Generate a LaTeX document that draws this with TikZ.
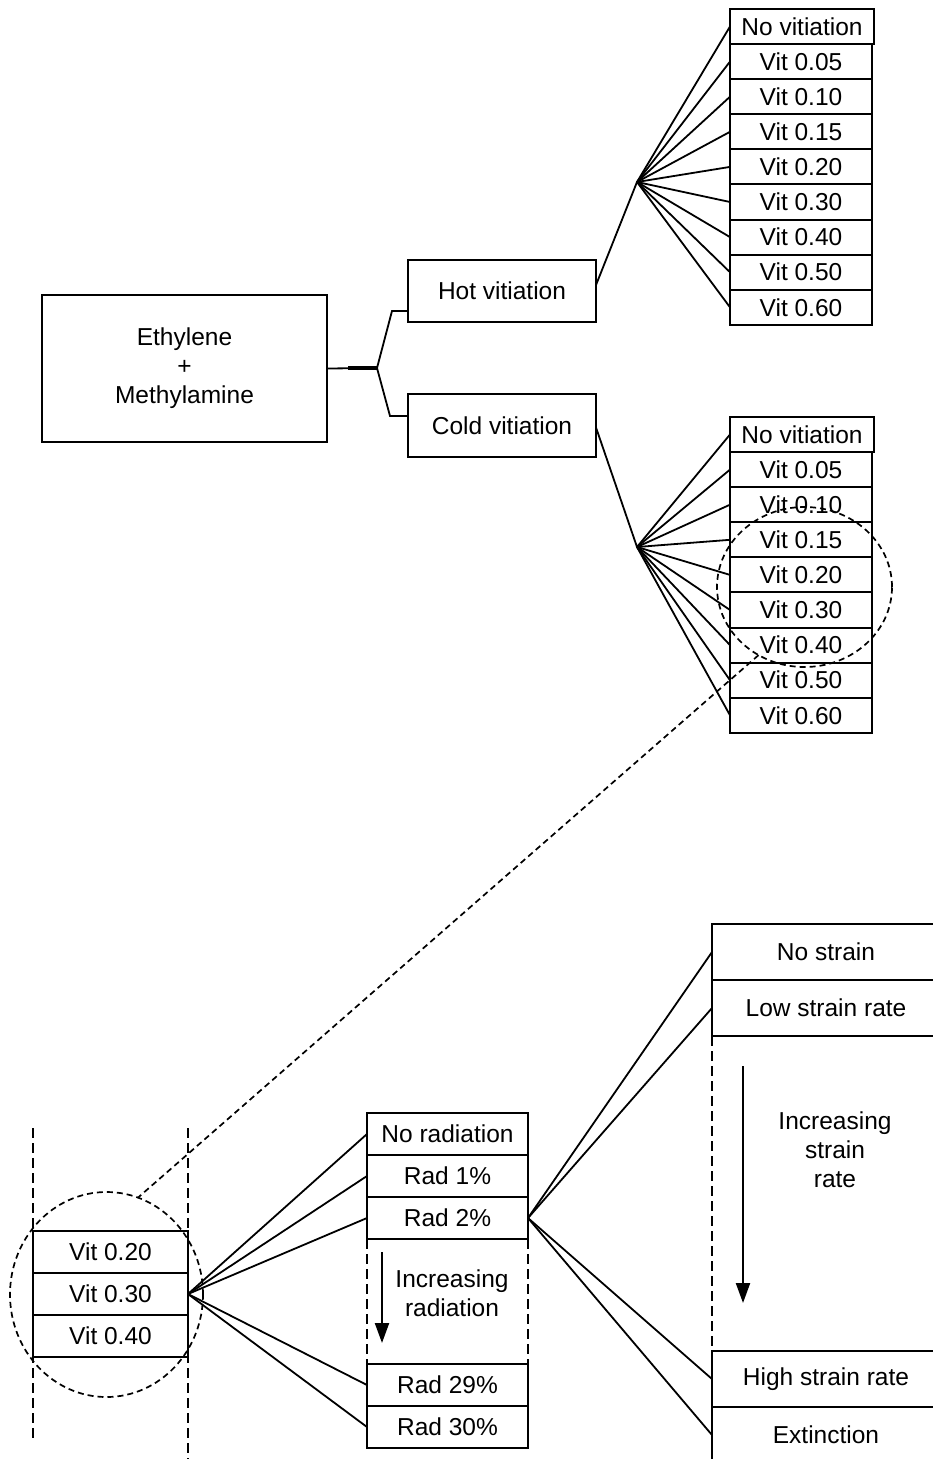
\documentclass[tikz,border=0pt]{standalone}
\usepackage{fontspec}
\setmainfont{Liberation Sans}
\usetikzlibrary{shapes.geometric,arrows.meta,calc}
\begin{document}
\begin{tikzpicture}[x=1pt,y=-1pt,
  box/.style={draw, line width=2pt, inner sep=0pt, outer sep=0pt, align=center,
    font=\fontsize{24.5}{29}\selectfont},
  vitbox/.style={box, minimum width=142pt, minimum height=35.1pt},
  radbox/.style={box, minimum width=161pt, minimum height=42pt},
  strainbox/.style={box, minimum width=228pt, minimum height=56pt},
  conn/.style={line width=1.8pt},
  guide/.style={line width=1.4pt, dash pattern=on 10pt off 5pt},
  zoomring/.style={draw, ellipse, line width=1.7pt, dash pattern=on 6pt off 4pt, inner sep=0pt, outer sep=0pt},
  zoomlink/.style={line width=1.7pt, dash pattern=on 6pt off 4pt},
  trend/.style={line width=2.2pt, -{Triangle[length=20pt,width=14pt]}},
  note/.style={align=center, font=\fontsize{24.5}{29}\selectfont, inner sep=0pt}
]
\useasboundingbox (0,0) rectangle (932,1459);

% main and first split
\node[box, minimum width=285pt, minimum height=147pt] (main) at (184.5,368.5) {Ethylene\\+\\Methylamine};
\node[box, minimum width=188pt, minimum height=62pt] (hot) at (502,291) {Hot vitiation};
\node[box, minimum width=188pt, minimum height=63pt] (cold) at (502,425.5) {Cold vitiation};
\coordinate (br) at (377,368);
\coordinate (brthick) at (348,368);
\coordinate (hbend) at (392,311);
\coordinate (hin) at (408,311);
\coordinate (cbend) at (390,416);
\coordinate (cin) at (408,416);
\draw[conn] (main.east) -- (br);
\draw[line width=3.2pt] (brthick) -- (br);
\draw[conn] (br) -- (hbend) -- (hin);
\draw[conn] (br) -- (cbend) -- (cin);

% hot vitiation column
\coordinate (hh) at (637,182);
\coordinate (ch) at (637,547);
\node[vitbox, minimum width=144pt] (h0) at (802,26.5) {No vitiation};
\node[vitbox] (h1) at (801,61.6) {Vit 0.05};
\node[vitbox] (h2) at (801,96.7) {Vit 0.10};
\node[vitbox] (h3) at (801,131.8) {Vit 0.15};
\node[vitbox] (h4) at (801,166.9) {Vit 0.20};
\node[vitbox] (h5) at (801,202.0) {Vit 0.30};
\node[vitbox] (h6) at (801,237.1) {Vit 0.40};
\node[vitbox] (h7) at (801,272.2) {Vit 0.50};
\node[vitbox] (h8) at (801,307.3) {Vit 0.60};
\draw[conn] ($(hot.east)+(0,-6)$) -- (hh);
\foreach \i in {0,...,8} {\draw[conn] (hh) -- (h\i.west);}

% cold vitiation column
\node[vitbox, minimum width=144pt] (c0) at (802,434.5) {No vitiation};
\node[vitbox] (c1) at (801,469.6) {Vit 0.05};
\node[vitbox] (c2) at (801,504.7) {Vit 0.10};
\node[vitbox] (c3) at (801,539.8) {Vit 0.15};
\node[vitbox] (c4) at (801,574.9) {Vit 0.20};
\node[vitbox] (c5) at (801,610.0) {Vit 0.30};
\node[vitbox] (c6) at (801,645.1) {Vit 0.40};
\node[vitbox] (c7) at (801,680.2) {Vit 0.50};
\node[vitbox] (c8) at (801,715.3) {Vit 0.60};
\draw[conn] ($(cold.east)+(0,2)$) -- (ch);
\foreach \i in {0,...,8} {\draw[conn] (ch) -- (c\i.west);}

% zoom ring on top
\node[zoomring, minimum width=175pt, minimum height=160pt] (ringA) at (804.5,587) {};

% bottom-left detail
\coordinate (gl1) at (33,1128);
\coordinate (gl2) at (33,1440);
\coordinate (gr1) at (188,1128);
\coordinate (gr2) at (188,1459);
\draw[guide] (gl1) -- (gl2);
\draw[guide] (gr1) -- (gr2);
\node[box, minimum width=155pt, minimum height=42pt] (b0) at (110.5,1252) {Vit 0.20};
\node[box, minimum width=155pt, minimum height=42pt] (b1) at (110.5,1294) {Vit 0.30};
\node[box, minimum width=155pt, minimum height=42pt] (b2) at (110.5,1336) {Vit 0.40};
\node[zoomring, minimum width=193pt, minimum height=205pt] (ringB) at (106.5,1294.5) {};
\draw[zoomlink] (ringA.236) -- (ringB.72);

% radiation column
\node[radbox] (r0) at (447.5,1134) {No radiation};
\node[radbox] (r1) at (447.5,1176) {Rad 1\%};
\node[radbox] (r2) at (447.5,1218) {Rad 2\%};
\node[radbox] (r29) at (447.5,1385) {Rad 29\%};
\node[radbox] (r30) at (447.5,1427) {Rad 30\%};
\foreach \n in {r0,r1,r2,r29,r30} {\draw[conn] (b1.east) -- (\n.west);}
\draw[guide] (r2.south west) -- (r29.north west);
\draw[guide] (r2.south east) -- (r29.north east);
\coordinate (ra1) at (382,1252);
\coordinate (ra2) at (382,1343);
\draw[trend] (ra1) -- (ra2);
\node[note] (radtxt) at (452,1293) {Increasing\\radiation};

% strain column
\node[strainbox] (s0) at (826,952) {No strain};
\node[strainbox] (s1) at (826,1008) {Low strain rate};
\node[strainbox] (s2) at (826,1379) {High strain rate};
\node[strainbox] (s3) at (826,1435) {Extinction};
\foreach \n in {s0,s1,s2,s3} {\draw[conn] (r2.east) -- (\n.west);}
\draw[guide] (s1.south west) -- (s2.north west);
\coordinate (sa1) at (743,1066);
\coordinate (sa2) at (743,1303);
\draw[trend] (sa1) -- (sa2);
\node[note] (straintxt) at (835,1150) {Increasing\\strain\\rate};
\end{tikzpicture}
\end{document}
